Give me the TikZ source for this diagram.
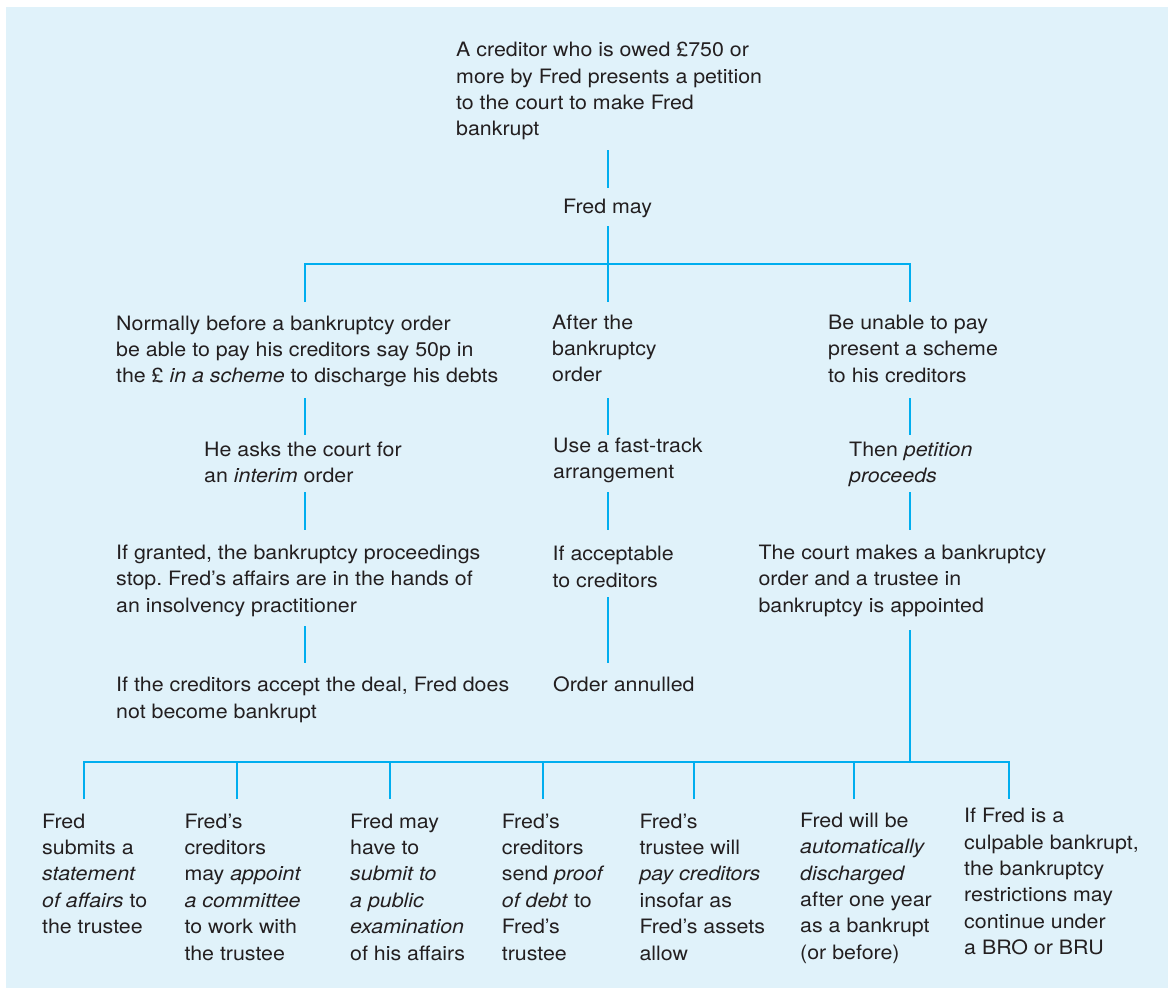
\documentclass[tikz,border=0pt]{standalone}
\usepackage{fontspec}
\setmainfont{TeX Gyre Heros}[FakeStretch=1.08]
\definecolor{bg}{HTML}{E0F2FA}
\definecolor{ln}{HTML}{00AEEF}
\definecolor{ink}{HTML}{231F20}
\newcommand{\fs}{\fontsize{19.8}{26.4}\selectfont\frenchspacing}
\tikzset{
  txt/.style={anchor=base west, inner sep=0pt, align=left, font=\fs, text=ink},
  conn/.style={draw=ln, line width=2.9pt}
}
\begin{document}
\begin{tikzpicture}[x=1pt,y=-1pt]
\useasboundingbox (0,0) rectangle (1168,988);
\fill[bg] (6,7) rectangle (1168,988);

% (node positions give the baseline of the LAST line of each text)
% top
\node[txt] (t0) at (456,135.8) {A creditor who is owed £750 or\\more by Fred presents a petition\\to the court to make Fred\\bankrupt};
\node[txt] (fm) at (563,213) {Fred may};

% left column
\node[txt] (L1) at (116,382.8) {Normally before a bankruptcy order\\be able to pay his creditors say 50p in\\the £ \textit{in a scheme} to discharge his debts};
\node[txt] (L2) at (204,482.4) {He asks the court for\\an \textit{interim} order};
\node[txt] (L3) at (116,612.1) {If granted, the bankruptcy proceedings\\stop. Fred’s affairs are in the hands of\\an insolvency practitioner};
\node[txt] (L4) at (116,718.1) {If the creditors accept the deal, Fred does\\not become bankrupt};

% middle column
\node[txt] (M1) at (552,381.8) {After the\\bankruptcy\\order};
\node[txt] (M2) at (553,478.4) {Use a fast-track\\arrangement};
\node[txt] (M3) at (552.5,587.1) {If acceptable\\to creditors};
\node[txt] (M4) at (553,691.7) {Order annulled};

% right column
\node[txt] (R1) at (828,382.1) {Be unable to pay\\present a scheme\\to his creditors};
\node[txt] (R2) at (849,482.4) {Then \textit{petition}\\\textit{proceeds}};
\node[txt] (R3) at (758.3,612.1) {The court makes a bankruptcy\\order and a trustee in\\bankruptcy is appointed};

% bottom row
\node[txt] (B1) at (42,933.6) {Fred\\submits a\\\textit{statement}\\\textit{of affairs} to\\the trustee};
\node[txt] (B2) at (184.3,960) {Fred’s\\creditors\\may \textit{appoint}\\\textit{a committee}\\to work with\\the trustee};
\node[txt] (B3) at (350,960) {Fred may\\have to\\\textit{submit to}\\\textit{a public}\\\textit{examination}\\of his affairs};
\node[txt] (B4) at (501.7,960) {Fred’s\\creditors\\send \textit{proof}\\\textit{of debt} to\\Fred’s\\trustee};
\node[txt] (B5) at (639.3,960) {Fred’s\\trustee will\\\textit{pay creditors}\\insofar as\\Fred’s assets\\allow};
\node[txt] (B6) at (800,959.3) {Fred will be\\\textit{automatically}\\\textit{discharged}\\after one year\\as a bankrupt\\(or before)};
\node[txt] (B7) at (964,954.7) {If Fred is a\\culpable bankrupt,\\the bankruptcy\\restrictions may\\continue under\\a BRO or BRU};

% connector coordinates
\coordinate (t0s) at (608,150);  \coordinate (fmn) at (608,188);
\coordinate (fms) at (608,226);  \coordinate (jt) at (608,264);
\coordinate (jl) at (305,264);   \coordinate (jr) at (910,264);
\coordinate (L1n) at (305,302);  \coordinate (M1n) at (608,302); \coordinate (R1n) at (910,302);
\coordinate (L1s) at (305,398);  \coordinate (L2n) at (305,435);
\coordinate (L2s) at (305,492);  \coordinate (L3n) at (305,530);
\coordinate (L3s) at (305,626);  \coordinate (L4n) at (305,663);
\coordinate (M1s) at (608,398);  \coordinate (M2n) at (608,435);
\coordinate (M2s) at (608,492);  \coordinate (M3n) at (608,530);
\coordinate (M3s) at (608,597);  \coordinate (M4n) at (608,663);
\coordinate (R1s) at (910,398);  \coordinate (R2n) at (910,435);
\coordinate (R2s) at (910,492);  \coordinate (R3n) at (910,530);
\coordinate (R3s) at (910,630);  \coordinate (jb) at (910,762);
\coordinate (jb1) at (84,762);   \coordinate (jb7) at (1009,762);
\coordinate (B1n) at (84,799);   \coordinate (B2n) at (237,799);
\coordinate (B3n) at (390,799);  \coordinate (B4n) at (543,799);
\coordinate (B5n) at (694,799);  \coordinate (B6n) at (854,799);
\coordinate (B7n) at (1009,799);

\draw[conn] (t0s) -- (fmn);
\draw[conn] (fms) -- (M1n);
\draw[conn] (L1n) -- (jl) -- (jr) -- (R1n);
\draw[conn] (L1s) -- (L2n);
\draw[conn] (L2s) -- (L3n);
\draw[conn] (L3s) -- (L4n);
\draw[conn] (M1s) -- (M2n);
\draw[conn] (M2s) -- (M3n);
\draw[conn] (M3s) -- (M4n);
\draw[conn] (R1s) -- (R2n);
\draw[conn] (R2s) -- (R3n);
\draw[conn] (R3s) -- (jb);
\draw[conn] (B1n) -- (jb1) -- (jb7) -- (B7n);
\foreach \b in {B2n,B3n,B4n,B5n,B6n} \draw[conn] (\b) -- (\b |- jb);
\end{tikzpicture}
\end{document}
